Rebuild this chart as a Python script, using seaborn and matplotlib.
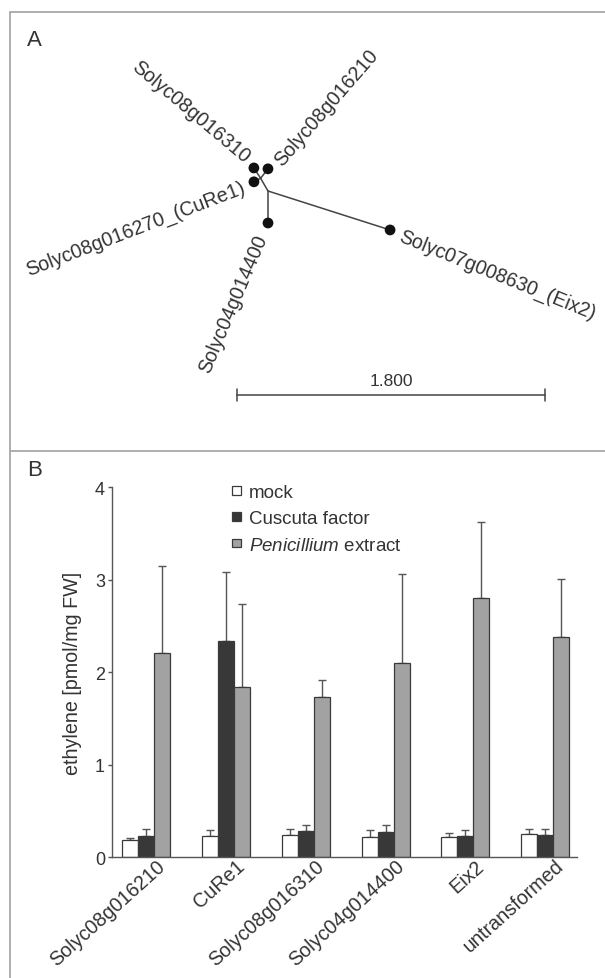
import numpy as np
import pandas as pd
import matplotlib
matplotlib.use("Agg")
import matplotlib.pyplot as plt
import matplotlib.transforms as mtransforms
from matplotlib.lines import Line2D
from matplotlib.patches import Patch
import seaborn as sns

# ---------------- data ----------------
# Panel A: unrooted tree, branches as (parent, child, length, angle in degrees)
tree_parent = ["N0", "N0", "N0", "N1", "N1", "N1"]
tree_child = ["Solyc07g008630_(Eix2)", "Solyc04g014400", "N1",
              "Solyc08g016310", "Solyc08g016210", "Solyc08g016270_(CuRe1)"]
tree_length = [0.749, 0.187, 0.086, 0.072, 0.070, 0.044]
tree_angle = [-17.7, -90.0, 120.2, 123.0, 52.0, 208.0]
scale_bar_length = 1.8
scale_bar_label = "1.800"

# Panel B: ethylene production
genotypes = ["Solyc08g016210", "CuRe1", "Solyc08g016310",
             "Solyc04g014400", "Eix2", "untransformed"]
treatments = ["mock", "Cuscuta factor", "Penicillium extract"]
mock_mean = [0.19, 0.23, 0.245, 0.22, 0.22, 0.25]
mock_err = [0.02, 0.06, 0.065, 0.08, 0.04, 0.06]
cuscuta_mean = [0.23, 2.34, 0.285, 0.27, 0.235, 0.245]
cuscuta_err = [0.08, 0.74, 0.065, 0.08, 0.065, 0.065]
penicillium_mean = [2.21, 1.84, 1.73, 2.10, 2.80, 2.38]
penicillium_err = [0.94, 0.90, 0.19, 0.96, 0.82, 0.63]

# ---------------- style ----------------
sns.set_theme(style="ticks")
plt.rcParams["font.family"] = ["Liberation Sans", "DejaVu Sans"]
plt.rcParams["mathtext.fontset"] = "custom"
plt.rcParams["mathtext.rm"] = "Liberation Sans"
plt.rcParams["mathtext.it"] = "Liberation Sans:italic"

W, H = 605, 979
fig = plt.figure(figsize=(W / 100, H / 100), dpi=100)
fig.patch.set_facecolor("white")

def fx(px):
    return px / W

def fy(py):
    return 1 - py / H

# panel frames
frame_col = "#a8a8a8"
for (x0, y0, x1, y1) in [(10, 13, 10, H), (10, 13, W, 13), (10, 452, W, 452)]:
    fig.add_artist(Line2D([fx(x0), fx(x1)], [fy(y0), fy(y1)], color=frame_col, lw=1.3,
                          transform=fig.transFigure))

fig.text(fx(34), fy(41), "A", fontsize=16, color="#333333", ha="center", va="center")
fig.text(fx(35), fy(471), "B", fontsize=16, color="#333333", ha="center", va="center")

# ---------------- Panel A: tree ----------------
px_per_unit = 171.1
n0_px = (268, 192)
axA = fig.add_axes([0, fy(452), 1, 452 / H])
axA.set_xlim((0 - n0_px[0]) / px_per_unit, (W - n0_px[0]) / px_per_unit)
axA.set_ylim((n0_px[1] - 452) / px_per_unit, n0_px[1] / px_per_unit)
axA.axis("off")

pos = {"N0": (0.0, 0.0)}
for p, c, L, a in zip(tree_parent, tree_child, tree_length, tree_angle):
    x0, y0 = pos[p]
    pos[c] = (x0 + L * np.cos(np.radians(a)), y0 + L * np.sin(np.radians(a)))
    axA.plot([x0, pos[c][0]], [y0, pos[c][1]], color="#444444", lw=1.1, zorder=1)

leaves = [c for c in tree_child if c not in tree_parent]
leaf_df = pd.DataFrame({"x": [pos[l][0] for l in leaves], "y": [pos[l][1] for l in leaves]})
sns.scatterplot(data=leaf_df, x="x", y="y", ax=axA, s=60, color="#111111",
                edgecolor="none", zorder=3, legend=False)
axA.set_xlabel("")
axA.set_ylabel("")
axA.axis("off")

label_style = {
    "Solyc08g016310": dict(off=(-4.5, 7.0), rot=-40, ha="right"),
    "Solyc08g016210": dict(off=(7.0, 4.5), rot=49, ha="left"),
    "Solyc08g016270_(CuRe1)": dict(off=(-7.0, -3.5), rot=21, ha="right"),
    "Solyc04g014400": dict(off=(-4.0, -8.5), rot=67, ha="right"),
    "Solyc07g008630_(Eix2)": dict(off=(7.0, -4.0), rot=-22, ha="left"),
}
for l in leaves:
    st = label_style[l]
    axA.annotate(l, xy=pos[l], xytext=st["off"], textcoords="offset points",
                 rotation=st["rot"], ha=st["ha"], va="center", rotation_mode="anchor",
                 fontsize=14.2, color="#333333")

# scale bar
sb_x0 = (237 - n0_px[0]) / px_per_unit
sb_y = (n0_px[1] - 396) / px_per_unit
tk = 6 / px_per_unit
axA.plot([sb_x0, sb_x0 + scale_bar_length], [sb_y, sb_y], color="#444444", lw=1.1)
for xx in [sb_x0, sb_x0 + scale_bar_length]:
    axA.plot([xx, xx], [sb_y - tk, sb_y + tk], color="#444444", lw=1.1)
axA.text(sb_x0 + scale_bar_length / 2, sb_y + 14 / px_per_unit, scale_bar_label,
         ha="center", va="center", fontsize=12.5, color="#333333")

# ---------------- Panel B: bars ----------------
axB = fig.add_axes([fx(112), fy(858.3), fx(577) - fx(112), (858.3 - 488.3) / H])
df = pd.DataFrame({
    "genotype": np.repeat(genotypes, 3),
    "treatment": treatments * len(genotypes),
    "value": np.ravel(np.column_stack([mock_mean, cuscuta_mean, penicillium_mean])),
    "err": np.ravel(np.column_stack([mock_err, cuscuta_err, penicillium_err])),
})
palette = {"mock": "#ffffff", "Cuscuta factor": "#383838", "Penicillium extract": "#a2a2a2"}
sns.barplot(data=df, x="genotype", y="value", hue="treatment", order=genotypes,
            hue_order=treatments, palette=palette, width=0.6, gap=0, errorbar=None,
            edgecolor="#3a3a3a", linewidth=0.9, ax=axB, legend=False, zorder=2)

# upper error bars from patch positions
errs = {"mock": mock_err, "Cuscuta factor": cuscuta_err, "Penicillium extract": penicillium_err}
means = {"mock": mock_mean, "Cuscuta factor": cuscuta_mean, "Penicillium extract": penicillium_mean}
for i, t in enumerate(treatments):
    bars = axB.containers[i]
    xs = [b.get_x() + b.get_width() / 2 for b in bars]
    m = np.array(means[t])
    e = np.array(errs[t])
    axB.errorbar(xs, m, yerr=[np.zeros_like(e), e], fmt="none", ecolor="#555555",
                 elinewidth=1.0, capsize=3, capthick=1.0, zorder=1)

axB.set_xlim(-0.43, 5.40)
axB.set_ylim(0, 4)
axB.set_yticks([0, 1, 2, 3, 4])
axB.set_yticklabels(["0", "1", "2", "3", "4"])
axB.set_xlabel("")
axB.set_ylabel("ethylene [pmol/mg FW]", fontsize=14.2, color="#333333")
axB.yaxis.set_label_coords(-0.065, 0.5)
for s in ["top", "right"]:
    axB.spines[s].set_visible(False)
for s in ["left", "bottom"]:
    axB.spines[s].set_color("#555555")
    axB.spines[s].set_linewidth(1.0)
axB.set_facecolor("none")
axB.tick_params(axis="y", length=3, width=1.0, color="#555555", labelsize=13,
                labelcolor="#333333", pad=2)
axB.tick_params(axis="x", length=0, labelsize=14.2, labelcolor="#333333", pad=4)
shift = mtransforms.ScaledTranslation(16 / 100, 0, fig.dpi_scale_trans)
for lab in axB.get_xticklabels():
    lab.set_rotation(42)
    lab.set_ha("right")
    lab.set_va("center")
    lab.set_rotation_mode("anchor")
    lab.set_transform(lab.get_transform() + shift)

handles = [Patch(facecolor=palette[t], edgecolor="#3a3a3a", linewidth=0.9) for t in treatments]
labels = ["mock", "Cuscuta factor", r"$\mathit{Penicillium}$ extract"]
fig.legend(handles, labels, loc="upper left", bbox_to_anchor=(fx(232), fy(485)),
           bbox_transform=fig.transFigure, frameon=False, fontsize=13.5,
           handlelength=0.47, handleheight=0.34, handletextpad=0.45,
           labelspacing=0.5, borderpad=0, borderaxespad=0, labelcolor="#333333")

fig.savefig("out.png", dpi=100, facecolor="white")
